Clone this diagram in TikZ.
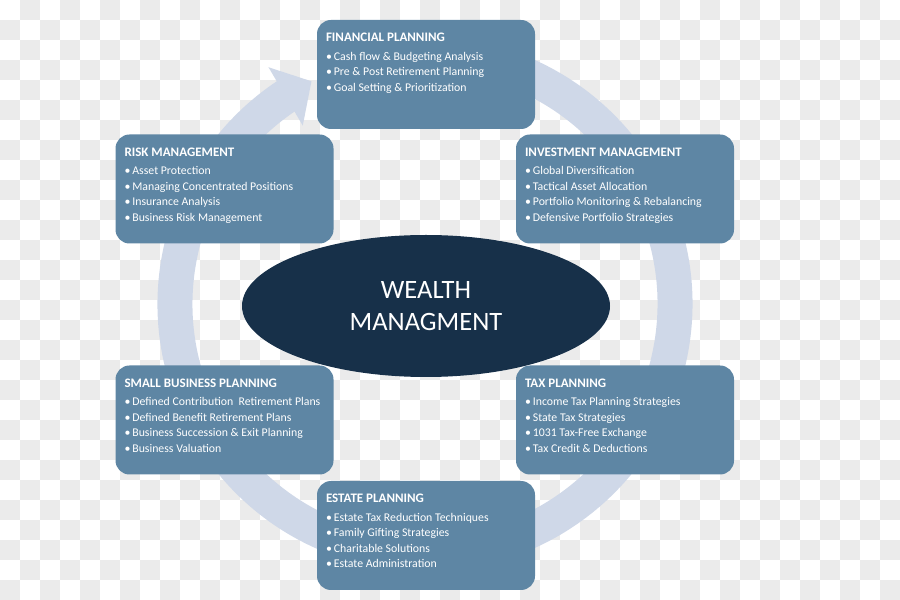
\documentclass[tikz,border=0pt]{standalone}
\usepackage{fontspec}
\setmainfont{Carlito}
\usetikzlibrary{shapes.geometric,arrows.meta,bending}

\definecolor{panelblue}{RGB}{94,134,164}
\definecolor{ringblue}{RGB}{207,216,232}
\definecolor{navy}{RGB}{23,48,73}
\definecolor{checkgray}{RGB}{235,235,235}

\tikzset{
  panel/.style={fill=panelblue, rounded corners=14pt, minimum width=218pt,
    minimum height=109pt, inner sep=0pt},
  panel text/.style={anchor=north west, align=left, text=white, inner sep=0pt,
    font=\fontsize{11.8}{15.5}\selectfont},
  hub/.style={ellipse, fill=navy, minimum width=368pt, minimum height=142pt,
    text=white, align=center, font=\fontsize{26.5}{32}\selectfont},
}
\newcommand{\itm}{\textbullet\hspace{2pt}}
\newcommand{\ttl}[1]{{\fontsize{13}{15.5}\selectfont\bfseries #1}}

\begin{document}
\begin{tikzpicture}[x=1pt,y=1pt]
  \useasboundingbox (0,0) rectangle (900,600);

  % checker background
  \foreach \i in {0,...,44}
    \foreach \j in {0,...,29} {
      \pgfmathparse{int(mod(\i+\j,2))}
      \ifnum\pgfmathresult=1
        \fill[checkgray] (20*\i, 580-20*\j) rectangle ++(20,20);
      \fi
    }

  % cycle arrow
  \draw[ringblue, line width=35pt, -{Triangle[width=66pt,length=30pt]}]
    (425,296) ++(80:250) arc[start angle=80, end angle=-243, radius=250];

  \node[hub] (wealth) at (426,294) {WEALTH\\MANAGMENT};

  % panels
  \node[panel] (fin) at (426,525.5) {};
  \node[panel text] (fin-txt) at ([shift={(9,-13)}]fin.north west)
    {\ttl{FINANCIAL PLANNING}\\[3pt]
     \itm Cash flow \& Budgeting Analysis\\
     \itm Pre \& Post Retirement Planning\\
     \itm Goal Setting \& Prioritization};

  \node[panel] (risk) at (224.5,411) {};
  \node[panel text] (risk-txt) at ([shift={(9,-13)}]risk.north west)
    {\ttl{RISK MANAGEMENT}\\[3pt]
     \itm Asset Protection\\
     \itm Managing Concentrated Positions\\
     \itm Insurance Analysis\\
     \itm Business Risk Management};

  \node[panel] (inv) at (625,411) {};
  \node[panel text] (inv-txt) at ([shift={(9,-13)}]inv.north west)
    {\ttl{INVESTMENT MANAGEMENT}\\[3pt]
     \itm Global Diversification\\
     \itm Tactical Asset Allocation\\
     \itm Portfolio Monitoring \& Rebalancing\\
     \itm Defensive Portfolio Strategies};

  \node[panel] (small) at (224.5,180) {};
  \node[panel text] (small-txt) at ([shift={(9,-13)}]small.north west)
    {\ttl{SMALL BUSINESS PLANNING}\\[3pt]
     \itm Defined Contribution\ \ Retirement Plans\\
     \itm Defined Benefit Retirement Plans\\
     \itm Business Succession \& Exit Planning\\
     \itm Business Valuation};

  \node[panel] (tax) at (625,180) {};
  \node[panel text] (tax-txt) at ([shift={(9,-13)}]tax.north west)
    {\ttl{TAX PLANNING}\\[3pt]
     \itm Income Tax Planning Strategies\\
     \itm State Tax Strategies\\
     \itm 1031 Tax-Free Exchange\\
     \itm Tax Credit \& Deductions};

  \node[panel] (estate) at (426,64.5) {};
  \node[panel text] (estate-txt) at ([shift={(9,-13)}]estate.north west)
    {\ttl{ESTATE PLANNING}\\[3pt]
     \itm Estate Tax Reduction Techniques\\
     \itm Family Gifting Strategies\\
     \itm Charitable Solutions\\
     \itm Estate Administration};
\end{tikzpicture}
\end{document}
